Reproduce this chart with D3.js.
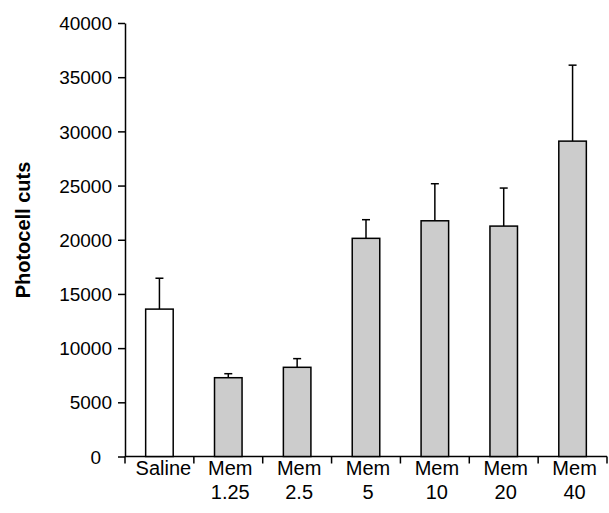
<!DOCTYPE html>
<html>
<head>
<meta charset="utf-8">
<script src="https://cdn.jsdelivr.net/npm/d3@7"></script>
<style>
  html, body { margin: 0; padding: 0; background: #fff; }
  svg { display: block; }
  text { font-family: "Liberation Sans", Arial, Helvetica, sans-serif; fill: #000; }
</style>
</head>
<body>
<svg id="chart" width="609" height="513"></svg>
<script>
const categories = ["Saline", "Mem 1.25", "Mem 2.5", "Mem 5", "Mem 10", "Mem 20", "Mem 40"];
const labelLine1 = ["Saline", "Mem", "Mem", "Mem", "Mem", "Mem", "Mem"];
const labelLine2 = ["", "1.25", "2.5", "5", "10", "20", "40"];
const means = [13600, 7270, 8230, 20130, 21750, 21260, 29100];
const errors = [2850, 370, 800, 1720, 3420, 3510, 7010];
const fills = ["#ffffff", "#cccccc", "#cccccc", "#cccccc", "#cccccc", "#cccccc", "#cccccc"];
const yTicks = [0, 5000, 10000, 15000, 20000, 25000, 30000, 35000, 40000];
const yLabel = "Photocell cuts";

const svg = d3.select("#chart");
const mLeft = 125, mRight = 607, mTop = 23, mBottom = 456.5;

const x = d3.scaleBand().domain(categories).range([mLeft, mRight]).paddingInner(0.6).paddingOuter(0.3);
const y = d3.scaleLinear().domain([0, 40000]).range([mBottom, mTop]);

// y axis
const yAxis = d3.axisLeft(y).tickValues(yTicks).tickSize(7).tickSizeOuter(0).tickFormat(d3.format("d"));
const gy = svg.append("g").attr("transform", `translate(${mLeft},0)`).call(yAxis);
gy.select(".domain").attr("stroke", "#000").attr("stroke-width", 1.5);
gy.selectAll(".tick line").attr("stroke", "#000").attr("stroke-width", 1.5);
gy.selectAll(".tick text")
  .attr("x", d => d === 0 ? -24 : -13)
  .attr("dy", "0.35em")
  .style("font-size", "19px").style("font-family", "'Liberation Sans', Arial, sans-serif");

// x axis: ticks at band boundaries
const xb = d3.scaleLinear().domain([0, categories.length]).range([mLeft, mRight]);
svg.append("line").attr("x1", mLeft).attr("x2", mRight).attr("y1", mBottom).attr("y2", mBottom)
  .attr("stroke", "#000").attr("stroke-width", 1.5);
svg.append("g").selectAll("line").data(d3.range(categories.length + 1)).join("line")
  .attr("x1", d => xb(d)).attr("x2", d => xb(d))
  .attr("y1", mBottom).attr("y2", mBottom + 7)
  .attr("stroke", "#000").attr("stroke-width", 1.5);

// bars
const bw = x.bandwidth();
const bars = svg.append("g");
bars.selectAll("line.err").data(categories).join("line").attr("class", "err")
  .attr("x1", d => x(d) + bw / 2).attr("x2", d => x(d) + bw / 2)
  .attr("y1", (d, i) => y(means[i])).attr("y2", (d, i) => y(means[i] + errors[i]))
  .attr("stroke", "#000").attr("stroke-width", 1.5);
bars.selectAll("line.cap").data(categories).join("line").attr("class", "cap")
  .attr("x1", d => x(d) + bw / 2 - 4).attr("x2", d => x(d) + bw / 2 + 4)
  .attr("y1", (d, i) => y(means[i] + errors[i])).attr("y2", (d, i) => y(means[i] + errors[i]))
  .attr("stroke", "#000").attr("stroke-width", 1.5);
bars.selectAll("rect").data(categories).join("rect")
  .attr("x", d => x(d)).attr("width", bw)
  .attr("y", (d, i) => y(means[i])).attr("height", (d, i) => mBottom - y(means[i]))
  .attr("fill", (d, i) => fills[i]).attr("stroke", "#000").attr("stroke-width", 1.5);

// x labels
const xl = svg.append("g");
xl.selectAll("text.l1").data(categories).join("text").attr("class", "l1")
  .attr("x", (d, i) => x(d) + bw / 2 + (i === 0 ? 4 : 2)).attr("y", 475)
  .attr("text-anchor", "middle").style("font-size", "20px")
  .text((d, i) => labelLine1[i]);
xl.selectAll("text.l2").data(categories).join("text").attr("class", "l2")
  .attr("x", d => x(d) + bw / 2 + 2).attr("y", 499)
  .attr("text-anchor", "middle").style("font-size", "20px")
  .text((d, i) => labelLine2[i]);

// y label
svg.append("text")
  .attr("transform", `translate(30,230) rotate(-90)`)
  .attr("text-anchor", "middle").style("font-size", "20px").style("font-weight", "bold")
  .text(yLabel);
</script>
</body>
</html>
